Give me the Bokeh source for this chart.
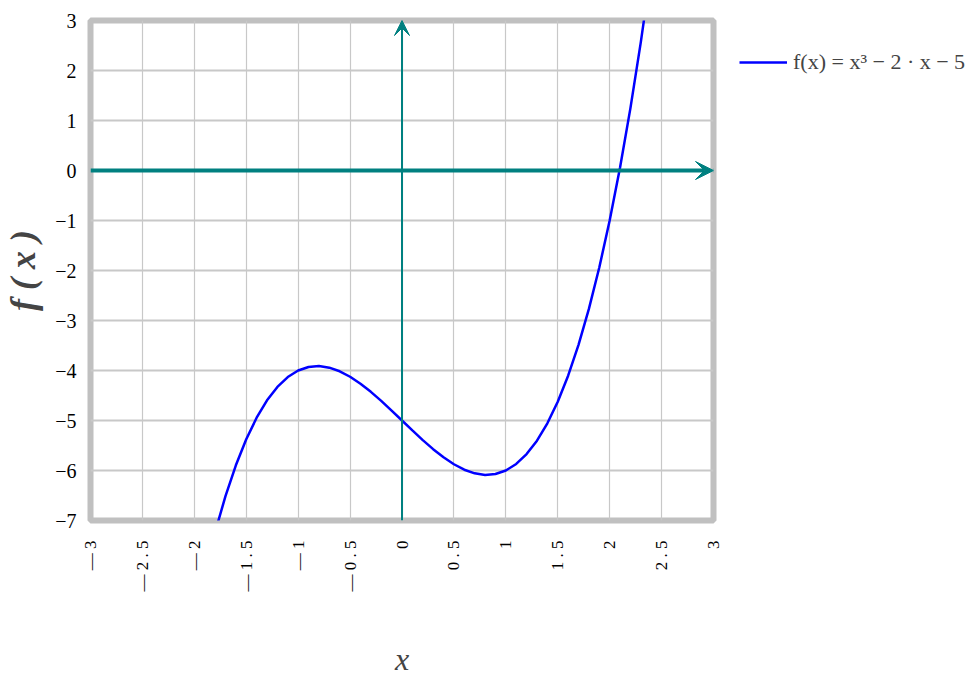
import math
from bokeh.plotting import figure
from bokeh.models import Range1d, FixedTicker, Arrow, VeeHead, Legend, LegendItem
from bokeh.embed import file_html
from bokeh.resources import INLINE

# curve samples: f(x) = x^3 - 2x - 5
xs = [-1.8, -1.7, -1.6, -1.5, -1.4, -1.3, -1.2, -1.1, -1.0, -0.9, -0.8, -0.7, -0.6,
      -0.5, -0.4, -0.3, -0.2, -0.1, 0.0, 0.1, 0.2, 0.3, 0.4, 0.5, 0.6, 0.7, 0.8, 0.9,
      1.0, 1.1, 1.2, 1.3, 1.4, 1.5, 1.6, 1.7, 1.8, 1.9, 2.0, 2.1, 2.2, 2.3, 2.4]
ys = [-7.232, -6.513, -5.896, -5.375, -4.944, -4.597, -4.328, -4.131, -4.0, -3.929,
      -3.912, -3.943, -4.016, -4.125, -4.264, -4.427, -4.608, -4.801, -5.0, -5.199,
      -5.392, -5.573, -5.736, -5.875, -5.984, -6.057, -6.088, -6.071, -6.0, -5.869,
      -5.672, -5.403, -5.056, -4.625, -4.104, -3.487, -2.768, -1.941, -1.0, 0.061,
      1.248, 2.567, 4.024]

x_ticks = [-3, -2.5, -2, -1.5, -1, -0.5, 0, 0.5, 1, 1.5, 2, 2.5, 3]
x_tick_labels = ["— 3", "— 2 . 5", "— 2", "— 1 . 5", "— 1", "— 0 . 5", "0",
                 "0 . 5", "1", "1 . 5", "2", "2 . 5", "3"]
y_ticks = [-7, -6, -5, -4, -3, -2, -1, 0, 1, 2, 3]
y_tick_labels = ["−7", "−6", "−5", "−4", "−3", "−2", "−1", "0", "1", "2", "3"]

x_min, x_max = -3, 3
y_min, y_max = -7, 3
legend_label = "f(x) = x³ − 2 · x − 5"
FONT = "Liberation Serif"

p = figure(output_backend="svg", toolbar_location=None,
           x_range=Range1d(x_min, x_max), y_range=Range1d(y_min, y_max),
           frame_width=623, frame_height=500,
           min_border_left=85, min_border_top=20, min_border_right=10,
           min_border_bottom=10)
p.background_fill_color = "white"
p.border_fill_color = "white"
p.outline_line_color = "#c0c0c0"
p.outline_line_width = 6

p.xaxis.ticker = FixedTicker(ticks=x_ticks)
p.yaxis.ticker = FixedTicker(ticks=y_ticks)
p.xaxis.major_label_overrides = {t: l for t, l in zip(x_ticks, x_tick_labels)}
p.yaxis.major_label_overrides = {t: l for t, l in zip(y_ticks, y_tick_labels)}
p.xaxis.major_label_orientation = math.pi / 2
for ax in (p.xaxis, p.yaxis):
    ax.axis_line_color = None
    ax.major_tick_line_color = None
    ax.minor_tick_line_color = None
    ax.major_label_text_font = FONT
    ax.major_label_text_color = "black"
p.xaxis.major_label_text_font_size = "17px"
p.yaxis.major_label_text_font_size = "20px"
p.xaxis.major_label_standoff = 14
p.yaxis.major_label_standoff = 8

p.xaxis.axis_label = "x"
p.xaxis.axis_label_text_font = FONT
p.xaxis.axis_label_text_font_style = "italic"
p.xaxis.axis_label_text_font_size = "32px"
p.xaxis.axis_label_standoff = 46
p.yaxis.axis_label = "f ( x )"
p.yaxis.axis_label_text_font = FONT
p.yaxis.axis_label_text_font_style = "bold italic"
p.yaxis.axis_label_text_font_size = "36px"
p.yaxis.axis_label_standoff = 9

p.xgrid.grid_line_color = "#c8c8c8"
p.xgrid.grid_line_width = 1.2
p.ygrid.grid_line_color = "#c8c8c8"
p.ygrid.grid_line_width = 2

teal = "#008080"
p.add_layout(Arrow(x_start=x_min, y_start=0, x_end=x_max, y_end=0, line_color=teal,
                   line_width=4,
                   end=VeeHead(size=18, line_color=teal, fill_color=teal, line_width=1)))
p.add_layout(Arrow(x_start=0, y_start=y_min, x_end=0, y_end=y_max, line_color=teal,
                   line_width=2,
                   end=VeeHead(size=15, line_color=teal, fill_color=teal, line_width=1)))

r = p.line(xs, ys, line_color="#0000ff", line_width=2.5)

legend = Legend(items=[LegendItem(label=legend_label, renderers=[r])],
                location="top_left", border_line_color=None,
                background_fill_alpha=0, margin=26, padding=8,
                glyph_width=48, glyph_height=32, label_text_font=FONT,
                label_text_font_size="22px", label_standoff=6)
p.add_layout(legend, "right")

open("out.html", "w").write(file_html(p, INLINE))
